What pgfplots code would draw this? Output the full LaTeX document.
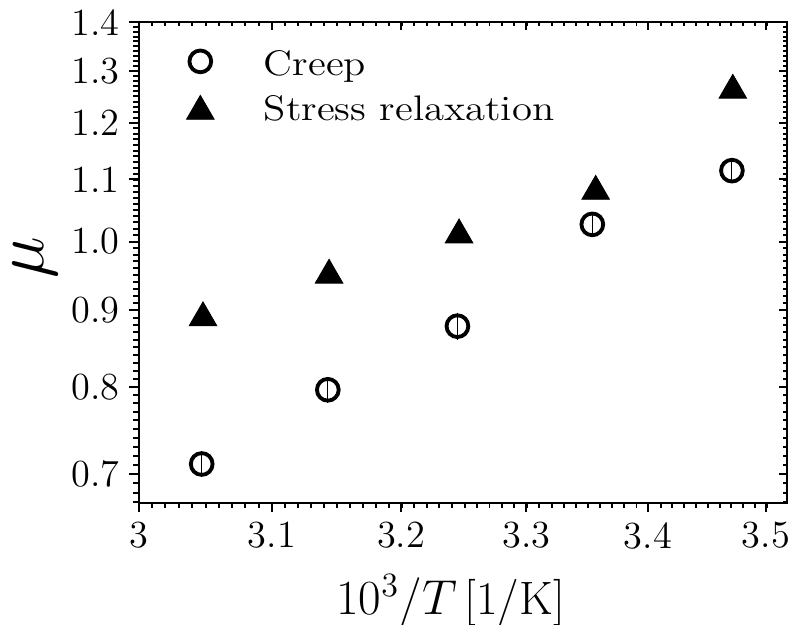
\documentclass[border=0pt]{standalone}
\usepackage{fontspec}
\newfontfamily\legendfont[FakeStretch=1.15]{Latin Modern Roman}
\usepackage{pgfplots}
\usepackage{pgfplotstable}
\pgfplotsset{compat=1.18}
\pgfplotsset{mylegimg/.style={legend image code/.code={\draw[##1] plot coordinates {(0pt,4.8pt)}; \path (-10pt,0pt) (10pt,0pt);}}}

\pgfplotstableread{
x y ey
3.0469 0.7106 0.0095
3.1428 0.7965 0.0098
3.2447 0.8781 0.0121
3.3539 1.0267 0.0079
3.4707 1.1150 0.0077
}\creep
\pgfplotstableread{
x y
3.0480 0.8949
3.1440 0.9554
3.2458 1.0164
3.3567 1.0867
3.4718 1.2692
}\stressrel

\begin{document}
\begin{tikzpicture}
\begin{axis}[
  at={(0,0)}, anchor=south west,
  scale only axis, width=228.2pt, height=169.2pt,
  xmode=log, ymode=log,
  xmin=3, xmax=3.518, ymin=0.6693, ymax=1.4,
  xtick={3,3.1,3.2,3.3,3.4,3.5},
  ytick={0.7,0.8,0.9,1.0,1.1,1.2,1.3,1.4},
  minor xtick={3.01,3.02,...,3.51},
  minor ytick={0.67,0.68,...,1.39},
  axis line style={line width=0.7pt},
  every tick/.style={line width=0.7pt, black},
  tick align=inside, xtick pos=right, ytick pos=right,
  major tick length=2.8pt, minor tick length=1.4pt,
  xticklabels={}, yticklabels={}]
\end{axis}
\begin{axis}[
  at={(0,0)}, anchor=south west,
  scale only axis, width=228.2pt, height=169.2pt,
  xmode=log, ymode=log,
  xmin=3, xmax=3.518, ymin=0.6693, ymax=1.4,
  xtick={3,3.1,3.2,3.3,3.4,3.5},
  ytick={0.7,0.8,0.9,1.0,1.1,1.2,1.3,1.4},
  minor xtick={3.01,3.02,...,3.51},
  minor ytick={0.67,0.68,...,1.39},
  axis line style={line width=0.7pt},
  every tick/.style={line width=0.7pt, black},
  tick align=outside, xtick pos=left, ytick pos=left,
  major tick length=3.3pt, minor tick length=1.8pt,
  xticklabels={3,3.1,3.2,3.3,3.4,3.5},
  yticklabels={0.7,0.8,0.9,1.0,1.1,1.2,1.3,1.4},
  tick label style={font=\fontsize{13.5}{16}\selectfont},
  xlabel={$10^3/T$\,[1/K]},
  xlabel style={font=\fontsize{16.5}{20}\selectfont, inner sep=0pt, at={(axis description cs:0.4816,-0.2323)}, anchor=base},
  ylabel={$\mu$},
  ylabel style={font=\fontsize{23}{28}\selectfont, inner sep=0pt, at={(axis description cs:-0.1595,0.5112)}, anchor=center},
  legend style={draw=none, fill=none, inner sep=0pt, outer sep=0pt,
    at={(axis description cs:0.0486,0.9497)}, anchor=north west,
    row sep=5.5pt, column sep=11.7pt,
    font=\legendfont\fontsize{12.5}{15}\selectfont,
    nodes={inner sep=0pt, text height=10pt, text depth=0pt, anchor=base west}},
]
\addplot[only marks, black, mark=o, mark size=3.83pt, line width=1.35pt,
  mylegimg,
  error bars/.cd, y dir=both, y explicit, error mark=-,
  error bar style={line width=0.35pt},
  error mark options={mark size=1.65pt, line width=0.35pt}]
  table[x=x, y=y, y error=ey] {\creep};
\addlegendentry{Creep}
\addplot[only marks, black, mark=triangle*, mark size=5.6pt, line width=0.3pt,
  mark options={yshift=-1.4pt}, mylegimg]
  table[x=x, y=y] {\stressrel};
\addlegendentry{Stress relaxation}
\end{axis}
\pgfresetboundingbox
\path[use as bounding box] (-48.75pt,-42.8pt) rectangle (230.8pt,177.1pt);
\end{tikzpicture}
\end{document}
